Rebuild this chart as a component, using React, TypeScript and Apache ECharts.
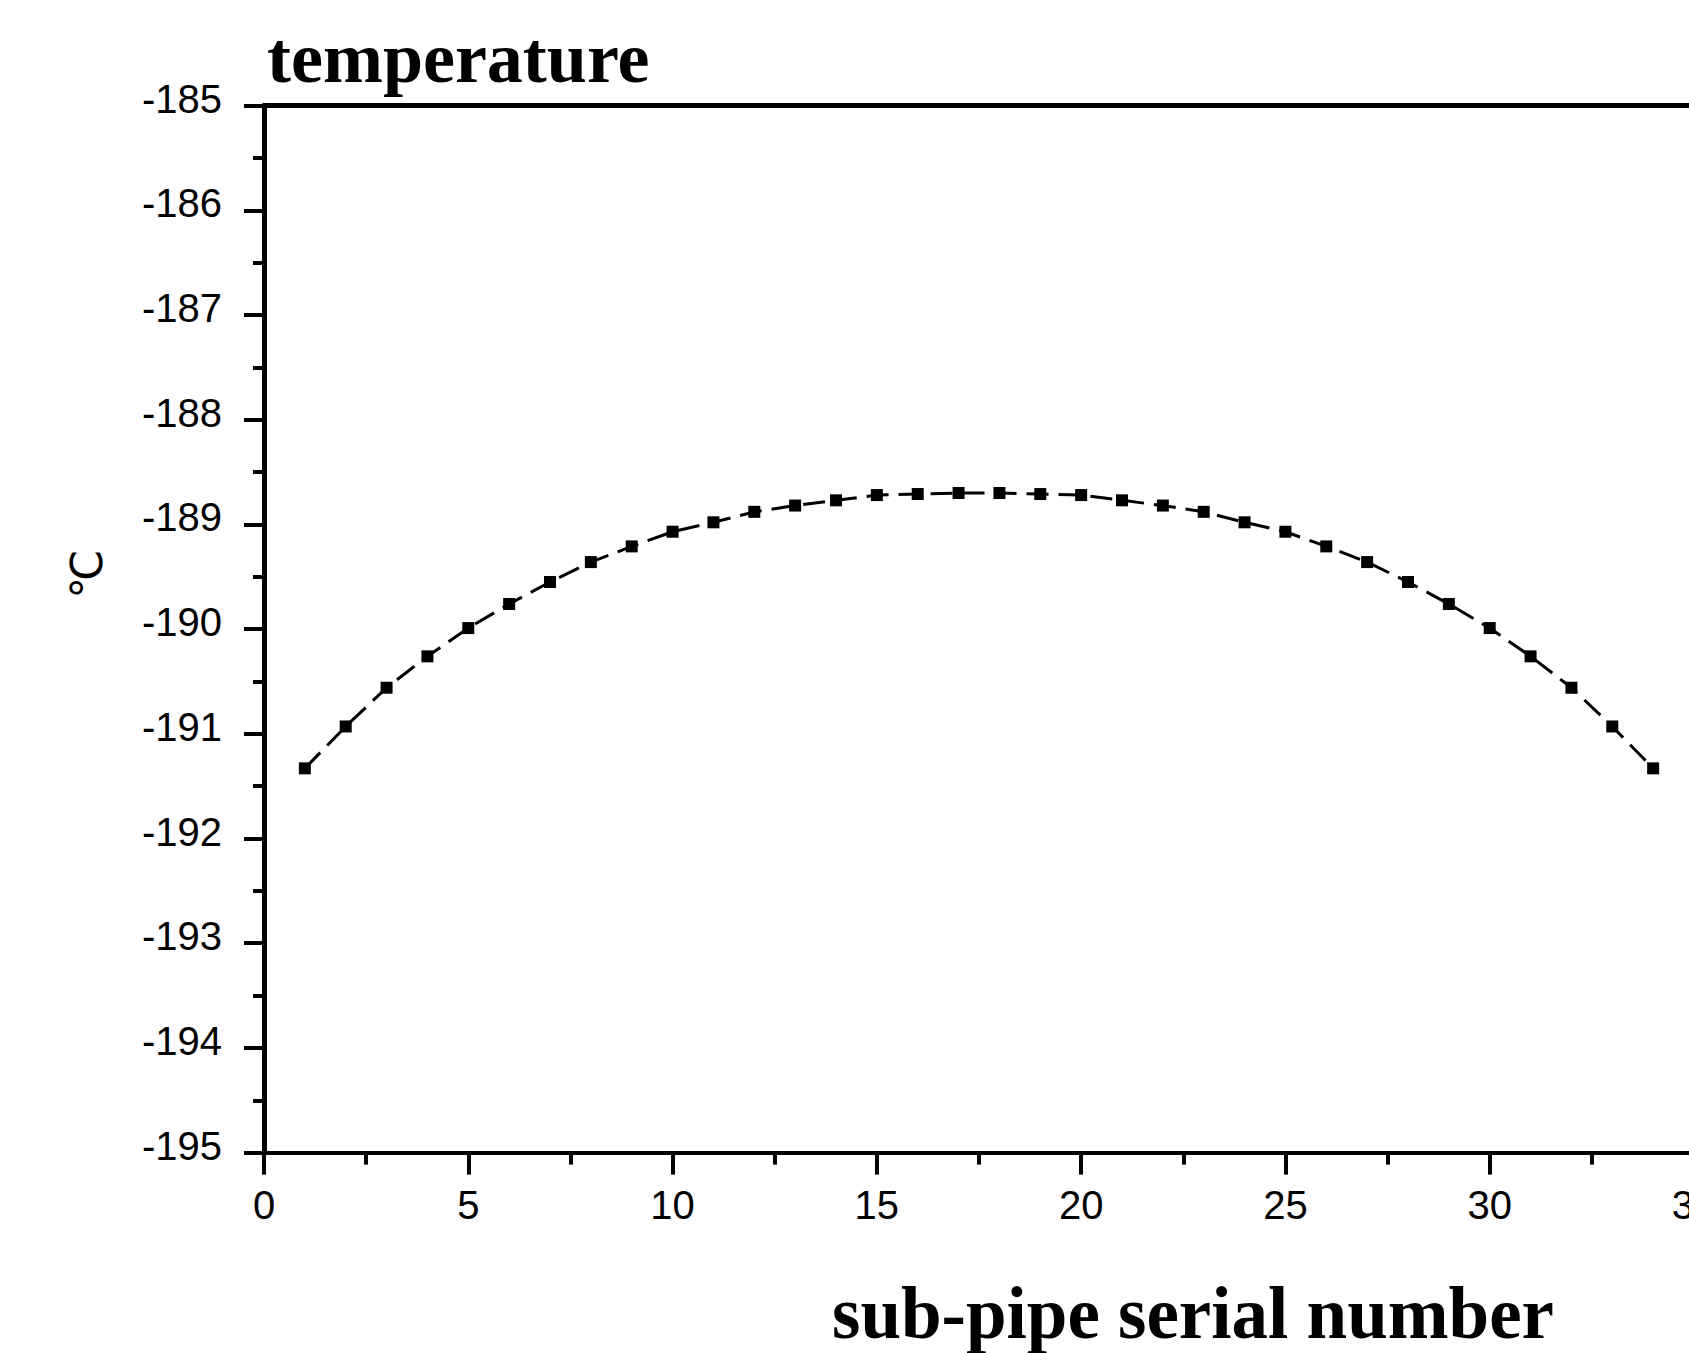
import React, { useEffect, useRef } from "react";
import * as echarts from "echarts";

const serialNumbers: number[] = [
  1, 2, 3, 4, 5, 6, 7, 8, 9, 10, 11, 12, 13, 14, 15, 16, 17,
  18, 19, 20, 21, 22, 23, 24, 25, 26, 27, 28, 29, 30, 31, 32, 33, 34,
];
const temperatures: number[] = [
  -191.33, -190.93, -190.56, -190.26, -189.99, -189.76, -189.55, -189.36,
  -189.21, -189.07, -188.98, -188.88, -188.82, -188.77, -188.72, -188.71,
  -188.7, -188.7, -188.71, -188.72, -188.77, -188.82, -188.88, -188.98,
  -189.07, -189.21, -189.36, -189.55, -189.76, -189.99, -190.26, -190.56,
  -190.93, -191.33,
];
const yMin = -195;
const yMax = -185;
const xMin = 0;
const xMax = 35;
const titleText = "temperature";
const xName = "sub-pipe serial number";
const yName = "℃";

export default function App() {
  const ref = useRef<HTMLDivElement>(null);
  useEffect(() => {
    if (!ref.current) return;
    const chart = echarts.init(ref.current, undefined, { renderer: "svg" });
    const labelFont = {
      color: "#000",
      fontFamily: "'Liberation Sans', Arial, sans-serif",
      fontSize: 40,
    };
    chart.setOption({
      animation: false,
      backgroundColor: "#fff",
      grid: { left: 264, top: 105.6, width: 1430, height: 1047 },
      xAxis: [
        {
          type: "value",
          min: xMin,
          max: xMax,
          interval: 5,
          position: "bottom",
          axisLine: { show: true, lineStyle: { color: "#000", width: 4 } },
          axisTick: { show: true, inside: false, length: 22, lineStyle: { color: "#000", width: 4 } },
          minorTick: { show: true, splitNumber: 2, length: 12, lineStyle: { color: "#000", width: 4 } },
          axisLabel: { ...labelFont, margin: 32, showMaxLabel: true },
          splitLine: { show: false },
          minorSplitLine: { show: false },
        },
        {
          type: "value",
          min: xMin,
          max: xMax,
          position: "top",
          axisLine: { show: true, onZero: false, lineStyle: { color: "#000", width: 5 } },
          axisTick: { show: false },
          axisLabel: { show: false },
          splitLine: { show: false },
        },
      ],
      yAxis: {
        type: "value",
        min: yMin,
        max: yMax,
        interval: 1,
        axisLine: { show: true, onZero: false, lineStyle: { color: "#000", width: 5 } },
        axisTick: { show: true, inside: false, length: 20, lineStyle: { color: "#000", width: 4 } },
        minorTick: { show: true, splitNumber: 2, length: 11, lineStyle: { color: "#000", width: 4 } },
        axisLabel: {
          ...labelFont,
          margin: 42,
          formatter: "{a|{value}}",
          rich: {
            a: {
              fontFamily: "'Liberation Sans', Arial, sans-serif",
              fontSize: 40,
              color: "#000",
              padding: [0, 0, 14, 0],
            },
          },
        },
        splitLine: { show: false },
      },
      graphic: [
        {
          type: "text",
          x: 267,
          y: 58,
          style: {
            text: titleText,
            font: "bold 72px 'Liberation Serif', serif",
            fill: "#000",
            textAlign: "left",
            textVerticalAlign: "middle",
            verticalAlign: "middle",
          },
        },
        {
          type: "text",
          x: 1193,
          y: 1313,
          style: {
            text: xName,
            font: "bold 73px 'Liberation Serif', serif",
            fill: "#000",
            textAlign: "center",
            textVerticalAlign: "middle",
            verticalAlign: "middle",
          },
        },
        {
          type: "text",
          x: 86,
          y: 574,
          rotation: Math.PI / 2,
          style: {
            text: yName,
            font: "44px 'DejaVu Sans', sans-serif",
            fill: "#000",
            textAlign: "center",
            textVerticalAlign: "middle",
            verticalAlign: "middle",
          },
        },
      ],
      series: [
        {
          type: "line",
          xAxisIndex: 0,
          data: serialNumbers.map((x, i) => [x, temperatures[i]]),
          symbol: "rect",
          symbolSize: 12,
          itemStyle: { color: "#000" },
          lineStyle: { color: "#000", width: 3, type: [22, 10] },
        },
      ],
    });
    return () => chart.dispose();
  }, []);
  return (
    <div
      style={{
        position: "fixed",
        left: 0,
        top: 0,
        width: 1689,
        height: 1353,
        overflow: "hidden",
        background: "#fff",
      }}
    >
      <div ref={ref} style={{ width: 1720, height: 1353 }} />
    </div>
  );
}
